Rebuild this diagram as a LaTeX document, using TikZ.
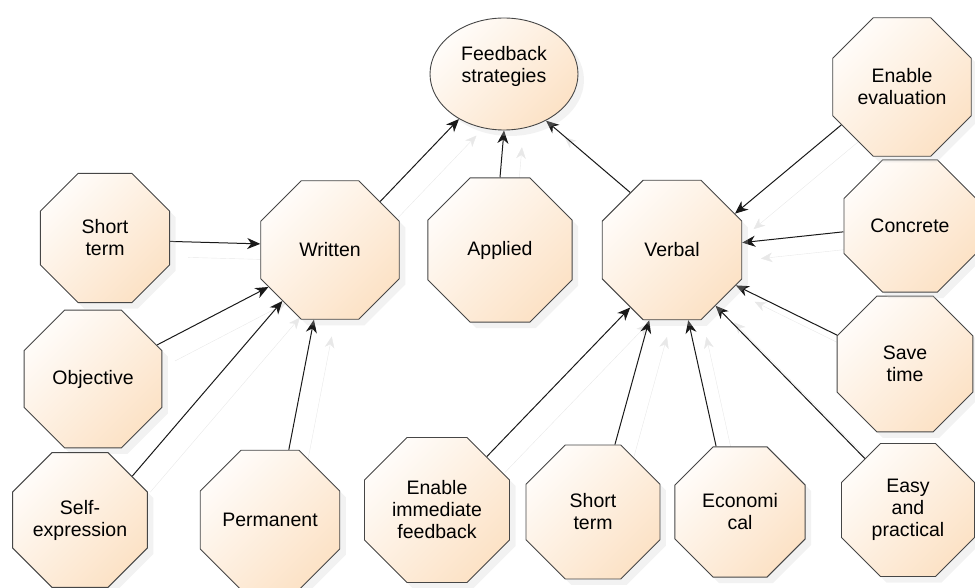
\documentclass[tikz,border=0pt]{standalone}
\usepackage{fontspec}
\setmainfont{Liberation Sans}
\usetikzlibrary{shapes.geometric,arrows.meta,shadows,backgrounds}

\definecolor{octlight}{RGB}{255,252,249}
\definecolor{octdark}{RGB}{252,226,198}
\definecolor{octline}{RGB}{70,70,70}

\tikzstyle{oct} = [regular polygon, regular polygon sides=8, inner sep=0pt, align=center,
  draw=octline, line width=0.9pt, top color=octlight, bottom color=octdark, shading angle=45,
  drop shadow={shadow xshift=6pt, shadow yshift=-6pt, fill=black!20, opacity=0.25},
  font=\fontsize{19.5}{22}\selectfont]
\tikzstyle{goal} = [ellipse, minimum width=148pt, minimum height=112pt, inner sep=0pt, align=center,
  text depth=20pt,
  draw=octline, line width=0.9pt, top color=octlight, bottom color=octdark, shading angle=45,
  drop shadow={shadow xshift=6pt, shadow yshift=-6pt, fill=black!20, opacity=0.25},
  font=\fontsize{19.5}{22}\selectfont]
\tikzstyle{arrow} = [line width=1pt, draw=black!90, -{Stealth[length=13pt,width=11pt,inset=4pt]},
  preaction={draw=black!9, transform canvas={xshift=18pt, yshift=-16pt}}]

\begin{document}
\begin{tikzpicture}[x=1pt, y=-1pt, node distance=170pt]
  \useasboundingbox (0,0) rectangle (975,588);

  \node (Written) [oct, minimum size=150pt] at (330,250) {Written};
  \node (Applied) [oct, minimum size=156pt, right of=Written] {Applied};
  \node (Verbal) [oct, minimum size=151pt, right of=Applied, xshift=2pt] {Verbal};
  \node (Feedback) [goal, above of=Applied, xshift=4pt, yshift=6pt] {Feedback\\strategies};

  \node (ShortTermL) [oct, minimum size=140pt, left of=Written, xshift=-55pt, yshift=12pt] {Short\\term};
  \node (Objective) [oct, minimum size=149pt, below of=ShortTermL, xshift=-12pt, yshift=29pt] {Objective};
  \node (SelfExpression) [oct, minimum size=146pt, below of=Objective, xshift=-13pt, yshift=29pt] {Self-\\expression};
  \node (Permanent) [oct, minimum size=151pt, right of=SelfExpression, xshift=20pt] {Permanent};

  \node (Immediate) [oct, minimum size=157pt, right of=Permanent, xshift=-3pt, yshift=10pt] {Enable\\immediate\\feedback};
  \node (ShortTermB) [oct, minimum size=145pt, right of=Immediate, xshift=-14pt, yshift=-2pt] {Short\\term};
  \node (Economical) [oct, minimum size=141pt, right of=ShortTermB, xshift=-23pt] {Economi\\cal};
  \node (Easy) [oct, minimum size=144pt, right of=Economical, xshift=-2pt, yshift=2pt] {Easy\\and\\practical};
  \node (SaveTime) [oct, minimum size=147pt, above of=Easy, xshift=-3pt, yshift=-24pt] {Save\\time};
  \node (Concrete) [oct, minimum size=143pt, above of=SaveTime, xshift=5pt, yshift=-32pt] {Concrete};
  \node (Evaluation) [oct, minimum size=150pt, above of=Concrete, xshift=-8pt, yshift=-31pt] {Enable\\evaluation};

  \begin{scope}[on background layer]
  % up to the goal
  \draw [arrow] (Written.44) -- (Feedback.225);
  \draw [arrow] (Applied.north) -- (Feedback.south);
  \draw [arrow] (Verbal.126) -- (Feedback.-48);

  % written feedback
  \draw [arrow] (ShortTermL.-3) -- (Written.175);
  \draw [arrow] (Objective.28) -- (Written.211);
  \draw [arrow] (SelfExpression.40) -- (Written.227);
  \draw [arrow] (Permanent.75) -- (Written.257);

  % verbal feedback
  \draw [arrow] (Evaluation.212) -- (Verbal.30);
  \draw [arrow] (Concrete.185) -- (Verbal.6);
  \draw [arrow] (SaveTime.157) -- (Verbal.-29);
  \draw [arrow] (Easy.130) -- (Verbal.-52);
  \draw [arrow] (Immediate.47) -- (Verbal.234);
  \draw [arrow] (ShortTermB.72) -- (Verbal.252);
  \draw [arrow] (Economical.110) -- (Verbal.283);
  \end{scope}
\end{tikzpicture}
\end{document}
